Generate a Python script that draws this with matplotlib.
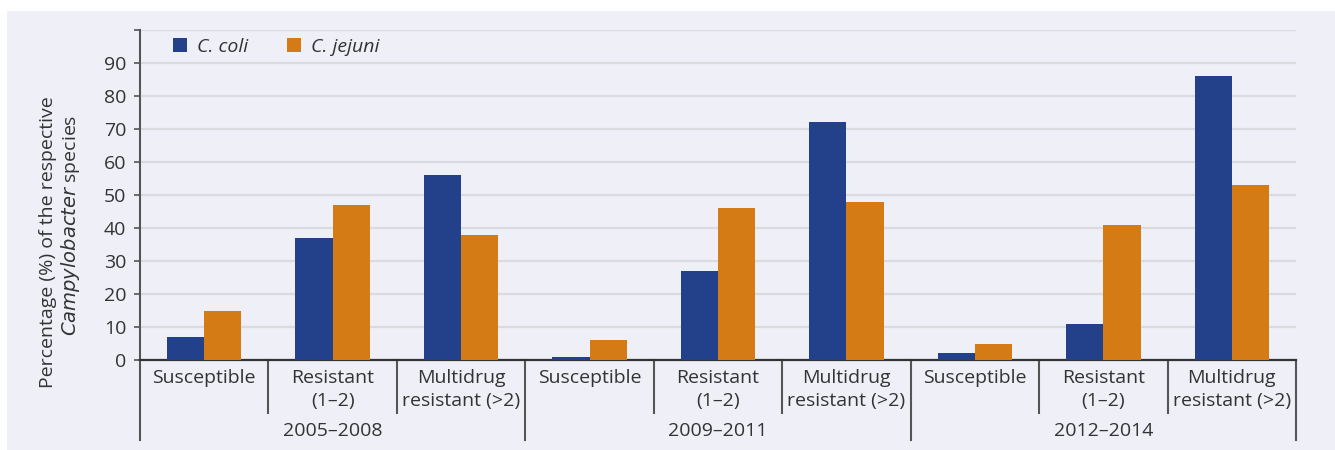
import matplotlib
matplotlib.use("Agg")
from matplotlib import pyplot as plt
from matplotlib import transforms
from matplotlib.patches import Rectangle

plt.rcParams['font.family'] = ['Open Sans', 'DejaVu Sans']

periods = ["2005–2008", "2009–2011", "2012–2014"]
resistance = ["Susceptible", "Resistant\n(1–2)", "Multidrug\nresistant (>2)"]
coli = [7, 37, 56, 1, 27, 72, 2, 11, 86]
jejuni = [15, 47, 38, 6, 46, 48, 5, 41, 53]
y_ticks = [0, 10, 20, 30, 40, 50, 60, 70, 80, 90, 100]
y_tick_labels = ["0", "10", "20", "30", "40", "50", "60", "70", "80", "90", ""]

BLUE = "#22418a"
ORANGE = "#d47b15"
BG = "#efeff8"
TEXT = "#333333"
FS = 14

fig = plt.figure(figsize=(13.35, 4.5), dpi=100)
fig.patch.set_facecolor("white")
fig.patches.append(Rectangle((7 / 1335, 0), 1, 1 - 11 / 450, transform=fig.transFigure,
                             facecolor=BG, edgecolor="none", zorder=-10))

ax = fig.add_axes([140 / 1335, 0.2, (1296 - 140) / 1335, 330 / 450])
ax.set_facecolor("none")

n = len(coli)
x = list(range(n))
w = 0.29
ax.bar([i - w / 2 for i in x], coli, width=w, color=BLUE, label="C. coli", zorder=3)
ax.bar([i + w / 2 for i in x], jejuni, width=w, color=ORANGE, label="C. jejuni", zorder=3)

ax.set_xlim(-0.5, n - 0.5)
ax.set_ylim(0, 100)
ax.set_yticks(y_ticks)
ax.set_yticklabels(y_tick_labels)
ax.set_xticks([])
ax.yaxis.grid(True, color="#dadadf", linewidth=1.6, zorder=0)
ax.tick_params(axis="y", direction="out", length=4, width=1.2, color="#555555",
               labelsize=FS, labelcolor=TEXT, pad=6)

for side in ["top", "right"]:
    ax.spines[side].set_visible(False)
ax.spines["left"].set_color("#555555")
ax.spines["left"].set_linewidth(1.5)
ax.spines["bottom"].set_color("#333333")
ax.spines["bottom"].set_linewidth(1.6)

# category axis below the plot
trans = transforms.blended_transform_factory(ax.transData, ax.transAxes)
for i in range(n + 1):
    edge = i - 0.5
    if i % 3 == 0:
        y_end = -(440 - 360) / 330
    else:
        y_end = -(413 - 360) / 330
    ax.plot([edge, edge], [0, y_end], transform=trans, color="#555555",
            linewidth=1.5, clip_on=False)

for i in range(n):
    ax.text(i, -0.026, resistance[i % 3], transform=trans, ha="center", va="top",
            fontsize=FS, color=TEXT, linespacing=1.4)

for j, p in enumerate(periods):
    ax.text(3 * j + 1, -(431 - 360) / 330, p, transform=trans, ha="center",
            va="center", fontsize=FS, color=TEXT)

# y label, two lines with italic genus
fig.text(48 / 1335, 1 - 242 / 450, "Percentage (%) of the respective", rotation=90,
         ha="center", va="center", fontsize=FS, color=TEXT)
fig.text(70 / 1335, 1 - 225 / 450, r"$\mathit{Campylobacter}$ species", rotation=90,
         ha="center", va="center", fontsize=FS, color=TEXT)

leg = ax.legend(loc="upper left", bbox_to_anchor=(0.013, 1.03), ncol=2, frameon=False,
                prop={"style": "italic", "size": FS}, handlelength=0.75, handleheight=0.75,
                handletextpad=0.5, columnspacing=2.0, labelcolor=TEXT)

fig.savefig("out.png", dpi=100, facecolor=fig.get_facecolor())
